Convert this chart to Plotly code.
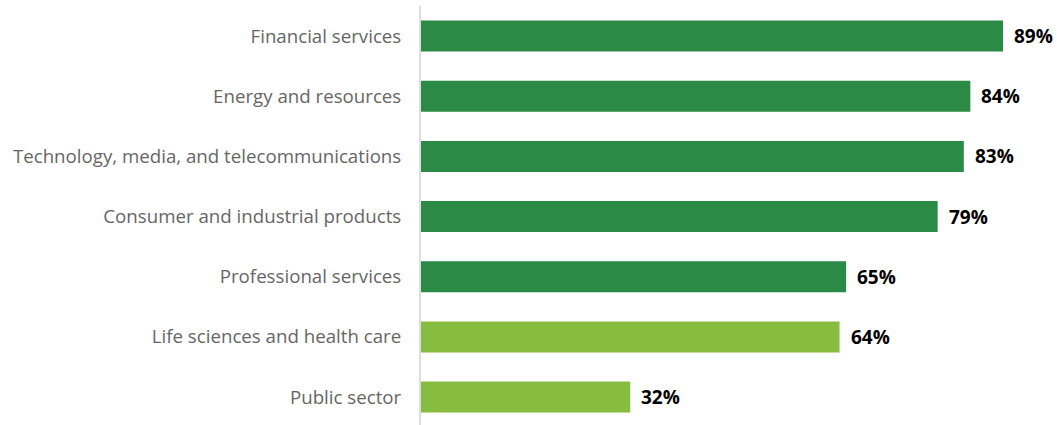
import plotly.graph_objects as go

categories = ["Financial services", "Energy and resources",
              "Technology, media, and telecommunications",
              "Consumer and industrial products", "Professional services",
              "Life sciences and health care", "Public sector"]
values = [89, 84, 83, 79, 65, 64, 32]
colors = ["#2A8A46", "#2A8A46", "#2A8A46", "#2A8A46", "#2A8A46", "#86BC40", "#86BC40"]
labels = [f"{v}%" for v in values]

fig = go.Figure(go.Bar(
    y=categories, x=values, orientation="h",
    marker=dict(color=colors, line=dict(width=0)),
    width=0.515, hoverinfo="skip",
))
for c, v, t in zip(categories, values, labels):
    fig.add_annotation(x=v, y=c, text=f"<b>{t}</b>", showarrow=False,
                       xanchor="left", xshift=9,
                       font=dict(family="Open Sans", size=19, color="#000000"))

fig.update_layout(
    width=1057, height=425,
    margin=dict(l=421, r=10, t=6, b=0),
    paper_bgcolor="white", plot_bgcolor="white",
    showlegend=False,
    font=dict(family="Open Sans"),
)
fig.update_xaxes(range=[0, 95.72], visible=False)
fig.update_yaxes(
    categoryorder="array", categoryarray=categories,
    range=[6.464, -0.5],
    showline=True, linecolor="#DDDDDD", linewidth=2,
    showgrid=False, zeroline=False,
    ticks="", ticklabelstandoff=14,
    tickfont=dict(family="Open Sans", size=18.7, color="#666666"),
)
fig.write_html("out.html", config={"displayModeBar": False},
               post_script="document.body.style.margin='0';")
